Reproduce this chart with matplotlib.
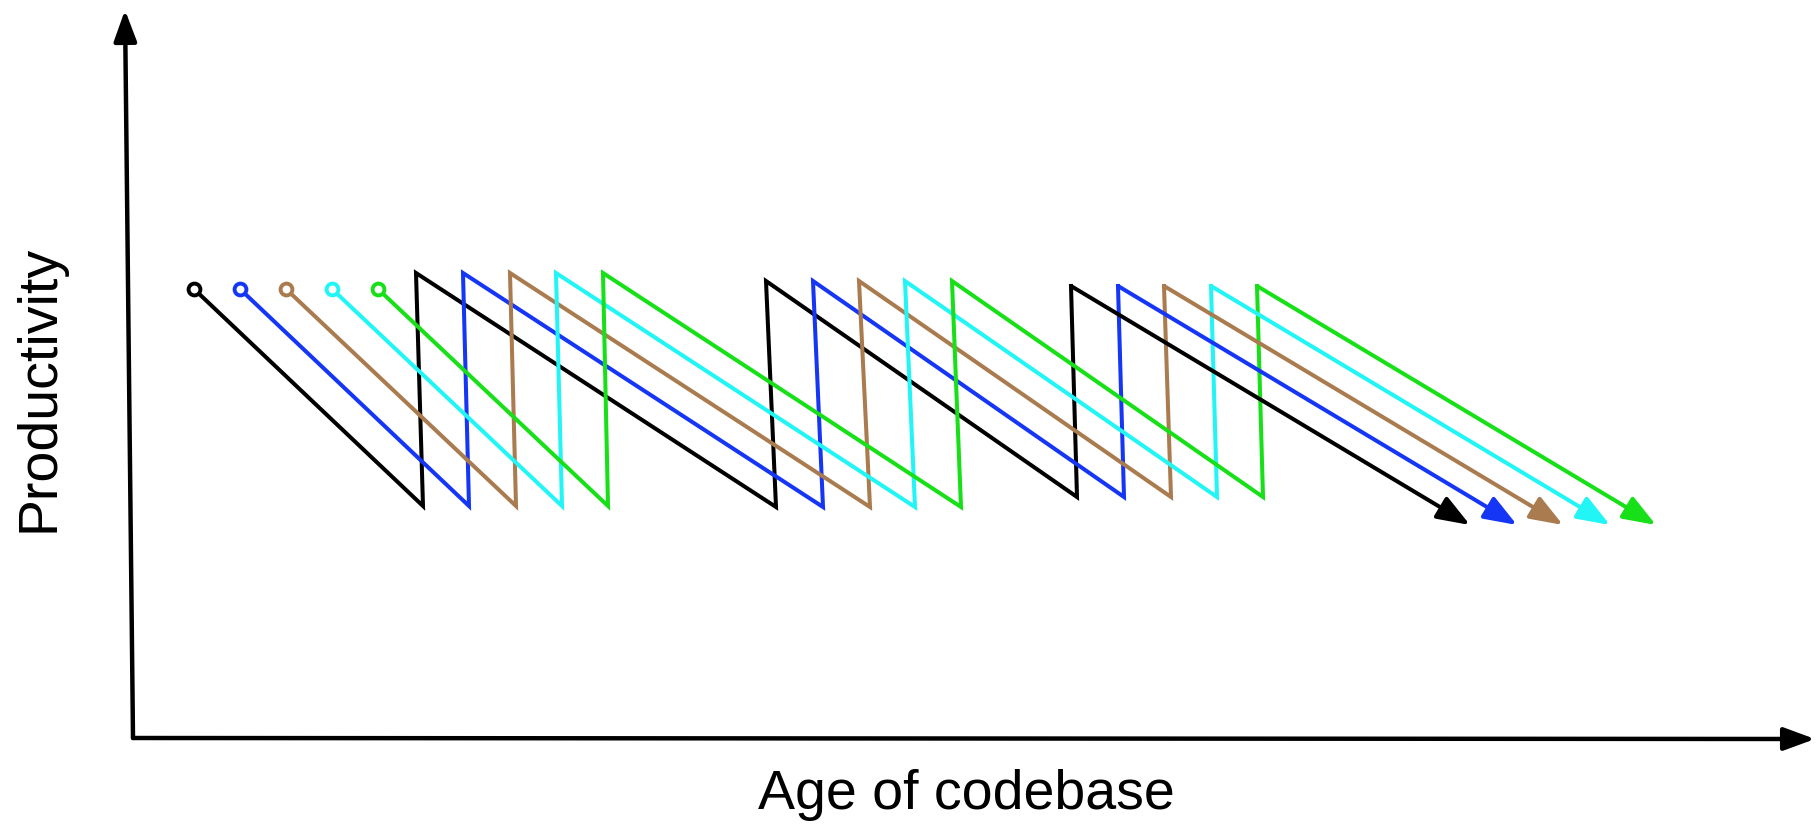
import matplotlib.pyplot as plt

plt.rcParams['font.family'] = ['Liberation Sans', 'DejaVu Sans']

# 五条锯齿线: 起点(圆圈) -> 底 -> 顶 -> 底 -> 顶 -> 底 -> 顶 -> 箭头
colors = ['#000000', '#1536f5', '#a97b4f', '#22f5f5', '#18e018']

black_x = [194, 423, 416, 776, 766, 1077, 1071, 1470]
blue_x = [240, 469, 463, 823, 813, 1124, 1118, 1517]
brown_x = [286, 516, 510, 870, 859, 1171, 1164, 1563]
cyan_x = [332, 562, 556, 915, 905, 1217, 1211, 1610]
green_x = [378, 608, 603, 961, 952, 1263, 1257, 1656]

saw_y = [289, 506, 273, 507, 281, 497, 286, 525]

series_x = [black_x, blue_x, brown_x, cyan_x, green_x]

# 坐标轴 (手绘风, 略有倾斜)
origin = (133, 738)
y_tip = (125, 10)
x_tip = (1815, 739)


def draw_chart():
    fig = plt.figure(figsize=(18.16, 8.25), dpi=100)
    ax = fig.add_axes([0, 0, 1, 1])
    ax.set_xlim(0, 1816)
    ax.set_ylim(825, 0)
    ax.axis('off')

    axis_style = dict(arrowstyle='-|>,head_length=1.9,head_width=0.7',
                      color='black', lw=3.2, mutation_scale=10,
                      shrinkA=0, shrinkB=0)
    ax.annotate('', xy=y_tip, xytext=origin, arrowprops=axis_style)
    ax.annotate('', xy=x_tip, xytext=origin, arrowprops=axis_style)

    for xs, c in zip(series_x, colors):
        ax.plot(xs[:-1], saw_y[:-1], color=c, lw=2.9, solid_joinstyle='miter')
        ax.plot(xs[0], saw_y[0], 'o', markersize=8.5, markerfacecolor='white',
                markeredgecolor=c, markeredgewidth=2.8, zorder=5)
        ax.annotate('', xy=(xs[-1], saw_y[-1]), xytext=(xs[-2], saw_y[-2]),
                    arrowprops=dict(arrowstyle='-|>,head_length=2.0,head_width=0.75',
                                    color=c, lw=2.9, mutation_scale=10,
                                    shrinkA=0, shrinkB=0))

    ax.text(40, 388, 'Productivity', rotation=90, fontsize=40,
            ha='center', va='center')
    ax.text(966, 795, 'Age of codebase', fontsize=40, ha='center', va='center')

    fig.savefig('out.png', dpi=100)


if __name__ == '__main__':
    draw_chart()
